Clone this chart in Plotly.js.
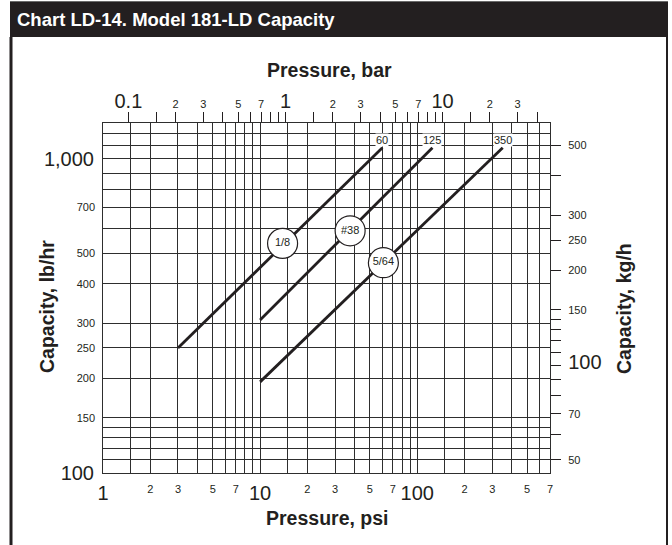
<!DOCTYPE html>
<html><head><meta charset="utf-8">
<script src="https://cdn.plot.ly/plotly-3.0.1.min.js"></script>
<style>html,body{margin:0;padding:0;background:#fff}#chart{width:672px;height:545px}</style>
</head><body><div id="chart"></div>
<script>
// ---------- data ----------
const orificeSizes = ['1/8', '#38', '5/64'];
const startPsi = [3, 10, 10];
const startLbHr = [250, 307, 195];
const endPsi = [60, 125, 350];
const endLbHr = [1085, 1085, 1085];
const markerPsi = [13.9, 37.4, 60.9];
const markerLbHr = [538, 590, 467];

const PSI_PER_BAR = 14.5038;
const KG_PER_LB = 0.45359237;
const psiRange = [1, 700];
const lbRange = [100, 1300];

// bottom axis (psi)
const psiMajor = [1, 10, 100];
const psiMajorText = ['1', '10', '100'];
const psiMinorGrid = [1.5, 2, 3, 4, 5, 6, 7, 8, 9, 15, 20, 30, 40, 50, 60, 70, 80, 90, 150, 200, 300, 400, 500, 600];
const psiMinorLabels = [2, 3, 5, 7, 20, 30, 50, 70, 200, 300, 500, 700];
const psiMinorText = ['2', '3', '5', '7', '2', '3', '5', '7', '2', '3', '5', '7'];
// left axis (lb/hr)
const lbMajor = [100, 1000];
const lbMajorText = ['100', '1,000'];
const lbMinorGrid = [110, 120, 130, 140, 150, 200, 250, 300, 400, 500, 600, 700, 800, 900, 1100, 1200];
const lbMinorLabels = [150, 200, 250, 300, 400, 500, 700];
const lbMinorText = ['150', '200', '250', '300', '400', '500', '700'];
// top axis (bar)
const barTicks = [0.1, 0.15, 0.2, 0.3, 0.4, 0.5, 0.6, 0.7, 0.8, 0.9, 1, 1.5, 2, 3, 4, 5, 6, 7, 8, 9, 10, 15, 20, 30, 40];
const barText = ['0.1', '', '2', '3', '', '5', '', '7', '', '', '1', '', '2', '3', '', '5', '', '7', '', '', '10', '', '2', '3', ''];
const barBig = ['0.1', '1', '10'];
// right axis (kg/h)
const kgTicks = [50, 60, 70, 80, 90, 100, 110, 120, 130, 140, 150, 200, 250, 300, 400, 500];
const kgText = ['50', '', '70', '', '', '100', '', '', '', '', '150', '200', '250', '300', '', '500'];
const kgBig = ['100'];

// ---------- styling ----------
const INK = '#231f20';
const GRID = '#2e2e2e';
const GW = 1;
const FONT = '"Liberation Sans", Arial, Helvetica, sans-serif';
const BIG = 20, SMALL = 11;
const M = {l: 103, r: 122, t: 123, b: 72};
const WIDTH = 672, HEIGHT = 545;
const PW = WIDTH - M.l - M.r, PH = HEIGHT - M.t - M.b;
const px2x = p => (p - M.l) / PW;
const py2y = p => (HEIGHT - M.b - p) / PH;
const big = t => '<span style="font-size:' + BIG + 'px">' + t + '</span>';

const L10 = Math.log10;
const xr = [L10(psiRange[0]), L10(psiRange[1])];
const yr = [L10(lbRange[0]), L10(lbRange[1])];
const barR = [L10(psiRange[0] / PSI_PER_BAR), L10(psiRange[1] / PSI_PER_BAR)];
const kgR = [L10(lbRange[0] * KG_PER_LB), L10(lbRange[1] * KG_PER_LB)];

// ---------- traces ----------
const traces = [];
for (let i = 0; i < orificeSizes.length; i++) {
  traces.push({
    type: 'scatter', mode: 'lines', name: orificeSizes[i],
    x: [startPsi[i], endPsi[i]], y: [startLbHr[i], endLbHr[i]],
    line: {color: INK, width: 2.8}, xaxis: 'x', yaxis: 'y', hoverinfo: 'skip'
  });
}
// circled orifice labels
traces.push({
  type: 'scatter', mode: 'markers+text', x: markerPsi, y: markerLbHr, text: orificeSizes,
  textposition: 'middle center', textfont: {family: FONT, size: SMALL, color: INK},
  marker: {symbol: 'circle', size: 30, color: '#ffffff', line: {color: INK, width: 1.2}},
  xaxis: 'x2', yaxis: 'y2', hoverinfo: 'skip'
});
// same curves in secondary units (bar, kg/h) — transparent, ties the top/right scales
for (let i = 0; i < orificeSizes.length; i++) {
  traces.push({
    type: 'scatter', mode: 'lines',
    x: [startPsi[i] / PSI_PER_BAR, endPsi[i] / PSI_PER_BAR],
    y: [startLbHr[i] * KG_PER_LB, endLbHr[i] * KG_PER_LB],
    line: {color: 'rgba(0,0,0,0)', width: 0}, xaxis: 'x3', yaxis: 'y3', hoverinfo: 'skip'
  });
}

// ---------- layout ----------
const layout = {
  width: WIDTH, height: HEIGHT, margin: M, showlegend: false, hovermode: false,
  paper_bgcolor: '#ffffff', plot_bgcolor: '#ffffff',
  font: {family: FONT, color: INK, size: SMALL},
  title: {
    text: 'Chart LD-14. Model 181-LD Capacity', xref: 'container', yref: 'container',
    x: 17 / WIDTH, xanchor: 'left', y: 1 - 20 / HEIGHT, yanchor: 'middle',
    font: {family: FONT, size: 18.5, color: '#ffffff', weight: 'bold'}
  },
  xaxis: {
    type: 'log', range: xr, tickmode: 'array', tickvals: psiMajor, ticktext: psiMajorText,
    tickfont: {family: FONT, size: BIG, color: INK}, ticks: '', tickangle: 0, ticklabelstandoff: 2,
    showgrid: true, gridcolor: GRID, gridwidth: GW,
    minor: {tickmode: 'array', tickvals: psiMinorGrid, showgrid: true, gridcolor: GRID, gridwidth: GW, ticks: ''},
    showline: true, mirror: true, linecolor: GRID, linewidth: GW, zeroline: false, fixedrange: true
  },
  xaxis2: {
    type: 'log', range: xr, overlaying: 'x', anchor: 'y', side: 'bottom',
    tickmode: 'array', tickvals: psiMinorLabels, ticktext: psiMinorText, tickangle: 0,
    tickfont: {family: FONT, size: SMALL, color: INK}, ticks: '', ticklabelstandoff: 8,
    showgrid: false, showline: false, zeroline: false, fixedrange: true
  },
  xaxis3: {
    type: 'log', range: barR, overlaying: 'x', anchor: 'y', side: 'top',
    tickmode: 'array', tickvals: barTicks, ticktext: barText.map(t => barBig.includes(t) ? big(t) : t), tickangle: 0,
    tickfont: {family: FONT, size: SMALL, color: INK}, ticks: 'outside', ticklen: 10, tickwidth: 1, tickcolor: INK,
    ticklabelstandoff: 0, showgrid: false, showline: false, zeroline: false, fixedrange: true
  },
  yaxis: {
    type: 'log', range: yr, tickmode: 'array', tickvals: lbMajor, ticktext: lbMajorText,
    tickfont: {family: FONT, size: BIG, color: INK}, ticks: '', ticklabelstandoff: 4,
    showgrid: true, gridcolor: GRID, gridwidth: GW,
    minor: {tickmode: 'array', tickvals: lbMinorGrid, showgrid: true, gridcolor: GRID, gridwidth: GW, ticks: ''},
    showline: true, mirror: true, linecolor: GRID, linewidth: GW, zeroline: false, fixedrange: true
  },
  yaxis2: {
    type: 'log', range: yr, overlaying: 'y', anchor: 'x', side: 'left',
    tickmode: 'array', tickvals: lbMinorLabels, ticktext: lbMinorText,
    tickfont: {family: FONT, size: SMALL, color: INK}, ticks: '', ticklabelstandoff: 7,
    showgrid: false, showline: false, zeroline: false, fixedrange: true
  },
  yaxis3: {
    type: 'log', range: kgR, overlaying: 'y', anchor: 'x', side: 'right',
    tickmode: 'array', tickvals: kgTicks, ticktext: kgText.map(t => kgBig.includes(t) ? big(t) : t),
    tickfont: {family: FONT, size: SMALL, color: INK}, ticks: 'outside', ticklen: 10, tickwidth: 1, tickcolor: INK,
    ticklabelstandoff: 5, showgrid: false, showline: false, zeroline: false, fixedrange: true
  },
  annotations: [],
  shapes: [
    {type: 'rect', xref: 'paper', yref: 'paper', x0: px2x(10), x1: px2x(668), y0: py2y(37), y1: py2y(2),
     fillcolor: INK, line: {width: 0}, layer: 'above'},
    {type: 'line', xref: 'paper', yref: 'paper', x0: px2x(10), x1: px2x(668), y0: py2y(1.5), y1: py2y(1.5),
     line: {color: '#6a6a6a', width: 1}},
    {type: 'line', xref: 'paper', yref: 'paper', x0: px2x(11), x1: px2x(11), y0: py2y(37), y1: py2y(545),
     line: {color: INK, width: 3}},
    {type: 'line', xref: 'paper', yref: 'paper', x0: px2x(667), x1: px2x(667), y0: py2y(37), y1: py2y(545),
     line: {color: INK, width: 2}}
  ]
};

// pressure labels at the top end of each line
for (let i = 0; i < endPsi.length; i++) {
  layout.annotations.push({
    xref: 'x', yref: 'y', x: L10(endPsi[i]), y: L10(endLbHr[i]), text: String(endPsi[i]),
    showarrow: false, xanchor: 'center', yanchor: 'bottom', yshift: 1,
    bgcolor: '#ffffff', borderpad: 0, font: {family: FONT, size: SMALL, color: INK}
  });
}
// axis titles
const titleFont = {family: FONT, size: 19.5, color: INK, weight: 'bold'};
layout.annotations.push(
  {xref: 'paper', yref: 'paper', x: px2x(329), y: py2y(70), text: 'Pressure, bar', showarrow: false,
   xanchor: 'center', yanchor: 'middle', font: titleFont},
  {xref: 'paper', yref: 'paper', x: px2x(327), y: py2y(518), text: 'Pressure, psi', showarrow: false,
   xanchor: 'center', yanchor: 'middle', font: titleFont},
  {xref: 'paper', yref: 'paper', x: px2x(47), y: py2y(307), text: 'Capacity, lb/hr', showarrow: false,
   textangle: -90, xanchor: 'center', yanchor: 'middle', font: titleFont},
  {xref: 'paper', yref: 'paper', x: px2x(624), y: py2y(309), text: 'Capacity, kg/h', showarrow: false,
   textangle: -90, xanchor: 'center', yanchor: 'middle', font: titleFont}
);

Plotly.newPlot('chart', traces, layout, {staticPlot: true, displayModeBar: false});
</script>
</body></html>
